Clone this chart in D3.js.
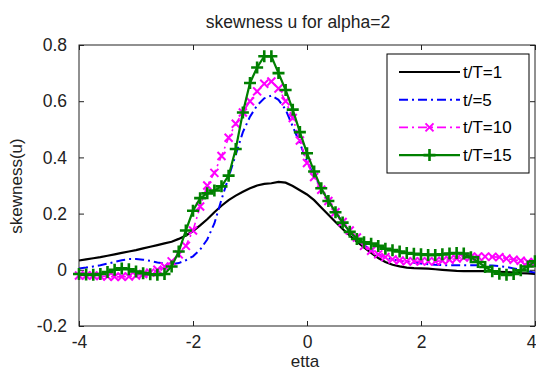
<!DOCTYPE html>
<html>
<head>
<meta charset="utf-8">
<script src="https://cdn.jsdelivr.net/npm/d3@7"></script>
<style>
  body { margin: 0; background: #fff; }
  text { font-family: "Liberation Sans", Arial, sans-serif; }
</style>
</head>
<body>
<div id="chart"></div>
<script>
// etta grid (shared by all series)
const etta = [
  -4, -3.875, -3.75, -3.625, -3.5, -3.375, -3.25, -3.125,
  -3, -2.875, -2.75, -2.625, -2.5, -2.375, -2.25, -2.125,
  -2, -1.875, -1.75, -1.625, -1.5, -1.375, -1.25, -1.125,
  -1, -0.875, -0.75, -0.625, -0.5, -0.375, -0.25, -0.125,
  0, 0.125, 0.25, 0.375, 0.5, 0.625, 0.75, 0.875,
  1, 1.125, 1.25, 1.375, 1.5, 1.625, 1.75, 1.875,
  2, 2.125, 2.25, 2.375, 2.5, 2.625, 2.75, 2.875,
  3, 3.125, 3.25, 3.375, 3.5, 3.625, 3.75, 3.875,
  4
];

const skewT1 = [
  0.033, 0.037, 0.041, 0.045, 0.050, 0.055, 0.060, 0.065,
  0.070, 0.076, 0.082, 0.088, 0.094, 0.100, 0.110, 0.122,
  0.138, 0.158, 0.180, 0.205, 0.228, 0.248, 0.264, 0.278,
  0.290, 0.300, 0.306, 0.308, 0.313, 0.310, 0.298, 0.283,
  0.268, 0.248, 0.222, 0.196, 0.170, 0.145, 0.122, 0.100,
  0.080, 0.060, 0.042, 0.028, 0.018, 0.012, 0.008, 0.006,
  0.005, 0.004, 0.002, 0.000, -0.002, -0.004, -0.005, -0.005,
  -0.005, -0.005, -0.006, -0.007, -0.008, -0.010, -0.012, -0.013,
  -0.015
];

const skewT5 = [
  0.005, 0.008, 0.012, 0.016, 0.022, 0.028, 0.034, 0.038,
  0.038, 0.036, 0.032, 0.026, 0.022, 0.020, 0.024, 0.034,
  0.048, 0.072, 0.108, 0.165, 0.250, 0.330, 0.410, 0.490,
  0.545, 0.585, 0.610, 0.620, 0.605, 0.570, 0.510, 0.450,
  0.385, 0.335, 0.290, 0.245, 0.205, 0.170, 0.135, 0.110,
  0.088, 0.070, 0.055, 0.045, 0.037, 0.032, 0.028, 0.025,
  0.022, 0.020, 0.018, 0.017, 0.016, 0.016, 0.016, 0.016,
  0.016, 0.016, 0.015, 0.013, 0.010, 0.005, 0.000, -0.005,
  -0.010
];

const skewT10 = [
  -0.020, -0.020, -0.020, -0.022, -0.024, -0.025, -0.025, -0.024,
  -0.020, -0.015, -0.010, 0.000, 0.012, 0.030, 0.055, 0.085,
  0.140, 0.225, 0.300, 0.345, 0.405, 0.470, 0.520, 0.560,
  0.600, 0.635, 0.662, 0.670, 0.645, 0.600, 0.540, 0.460,
  0.380, 0.330, 0.285, 0.245, 0.205, 0.170, 0.140, 0.115,
  0.085, 0.068, 0.055, 0.045, 0.037, 0.033, 0.030, 0.030,
  0.030, 0.030, 0.030, 0.032, 0.036, 0.040, 0.044, 0.046,
  0.047, 0.047, 0.046, 0.045, 0.040, 0.036, 0.032, 0.028,
  0.025
];

const skewT15 = [
  -0.015, -0.017, -0.018, -0.015, -0.008, 0.000, 0.005, 0.002,
  -0.006, -0.012, -0.016, -0.018, -0.015, 0.012, 0.065, 0.140,
  0.210, 0.255, 0.272, 0.282, 0.297, 0.335, 0.430, 0.560,
  0.665, 0.720, 0.760, 0.760, 0.700, 0.640, 0.570, 0.490,
  0.415, 0.350, 0.290, 0.245, 0.205, 0.168, 0.135, 0.110,
  0.098, 0.093, 0.085, 0.075, 0.070, 0.065, 0.060, 0.057,
  0.055, 0.053, 0.053, 0.055, 0.058, 0.060, 0.058, 0.045,
  0.028, 0.010, -0.005, -0.014, -0.018, -0.015, -0.002, 0.012,
  0.030
];

const xTicks = [-4, -2, 0, 2, 4];
const yTicks = [-0.2, 0, 0.2, 0.4, 0.6, 0.8];
const seriesNames = ["t/T=1", "t/=5", "t/T=10", "t/T=15"];

const W = 536, H = 374;
const plotLeft = 79, plotRight = 535, plotTop = 45, plotBottom = 326;

const svg = d3.select("#chart").append("svg")
    .attr("width", W)
    .attr("height", H);

const x = d3.scaleLinear().domain([-4, 4]).range([plotLeft, plotRight]);
const y = d3.scaleLinear().domain([-0.2, 0.8]).range([plotBottom, plotTop]);

// axes box with inward ticks (matlab style)
const fmt = d => String(+d.toFixed(1));

svg.append("g")
    .attr("transform", `translate(0,${plotBottom})`)
    .call(d3.axisBottom(x).tickValues(xTicks).tickSize(-5).tickPadding(10).tickFormat(fmt))
    .call(g => g.select(".domain").remove())
    // last label sits on the window edge: keep it inside
    .call(g => g.selectAll(".tick text").filter(d => d === 4).attr("text-anchor", "end").attr("dx", 1));
svg.append("g")
    .attr("transform", `translate(0,${plotTop})`)
    .call(d3.axisTop(x).tickValues(xTicks).tickSize(-5).tickFormat(""))
    .call(g => g.select(".domain").remove());
svg.append("g")
    .attr("transform", `translate(${plotLeft},0)`)
    .call(d3.axisLeft(y).tickValues(yTicks).tickSize(-5).tickPadding(12).tickFormat(fmt))
    .call(g => g.select(".domain").remove());
svg.append("g")
    .attr("transform", `translate(${plotRight},0)`)
    .call(d3.axisRight(y).tickValues(yTicks).tickSize(-5).tickFormat(""))
    .call(g => g.select(".domain").remove());

svg.selectAll(".tick line").attr("stroke", "#222");
svg.selectAll(".tick text")
    .attr("font-size", 17.5)
    .attr("fill", "#222")
    .style("font-family", "'Liberation Sans', Arial, sans-serif");

svg.append("rect")
    .attr("x", plotLeft).attr("y", plotTop)
    .attr("width", plotRight - plotLeft).attr("height", plotBottom - plotTop)
    .attr("fill", "none")
    .attr("stroke", "#222")
    .attr("stroke-width", 1);

// curves
const series = [
  { name: seriesNames[0], vals: skewT1, color: "#000000", width: 2.2, dash: null, marker: null },
  { name: seriesNames[1], vals: skewT5, color: "#0000ff", width: 2, dash: "9,4,2,4", marker: null },
  { name: seriesNames[2], vals: skewT10, color: "#ff00ff", width: 1.6, dash: "9,4,2,4", marker: "x" },
  { name: seriesNames[3], vals: skewT15, color: "#008000", width: 2.2, dash: null, marker: "+" }
];

const line = d3.line()
    .x(d => x(d[0]))
    .y(d => y(d[1]));

function drawMarker(g, kind, cx, cy, color) {
  if (kind === "+") {
    g.append("path")
      .attr("d", `M${cx - 6},${cy}H${cx + 6}M${cx},${cy - 6}V${cy + 6}`)
      .attr("stroke", color).attr("stroke-width", 2.6).attr("fill", "none");
  } else if (kind === "x") {
    g.append("path")
      .attr("d", `M${cx - 4},${cy - 4}L${cx + 4},${cy + 4}M${cx - 4},${cy + 4}L${cx + 4},${cy - 4}`)
      .attr("stroke", color).attr("stroke-width", 2).attr("fill", "none");
  }
}

series.forEach(s => {
  const pts = etta.map((e, i) => [e, s.vals[i]]);
  const g = svg.append("g");
  g.append("path")
    .attr("d", line(pts))
    .attr("fill", "none")
    .attr("stroke", s.color)
    .attr("stroke-width", s.width)
    .attr("stroke-dasharray", s.dash);
  if (s.marker) {
    pts.forEach(p => drawMarker(g, s.marker, x(p[0]), y(p[1]), s.color));
  }
});

// legend
const lg = svg.append("g");
lg.append("rect")
    .attr("x", 387).attr("y", 54)
    .attr("width", 142).attr("height", 119)
    .attr("fill", "#fff")
    .attr("stroke", "#000")
    .attr("stroke-width", 1);

series.forEach((s, i) => {
  const ly = 72 + i * 27.7;
  lg.append("line")
    .attr("x1", 399).attr("x2", 460)
    .attr("y1", ly).attr("y2", ly)
    .attr("stroke", s.color)
    .attr("stroke-width", s.width)
    .attr("stroke-dasharray", s.dash);
  if (s.marker) drawMarker(lg, s.marker, 429.5, ly, s.color);
  lg.append("text")
    .attr("x", 463).attr("y", ly + 6)
    .attr("font-size", 17)
    .attr("fill", "#000")
    .text(s.name);
});

// titles
svg.append("text")
    .attr("x", 298).attr("y", 28)
    .attr("text-anchor", "middle")
    .attr("font-size", 17.5)
    .attr("fill", "#222")
    .text("skewness u for alpha=2");

svg.append("text")
    .attr("x", 305).attr("y", 367)
    .attr("text-anchor", "middle")
    .attr("font-size", 17)
    .attr("fill", "#222")
    .text("etta");

svg.append("text")
    .attr("transform", "translate(22,186) rotate(-90)")
    .attr("text-anchor", "middle")
    .attr("font-size", 17)
    .attr("fill", "#222")
    .text("skewness(u)");
</script>
</body>
</html>
